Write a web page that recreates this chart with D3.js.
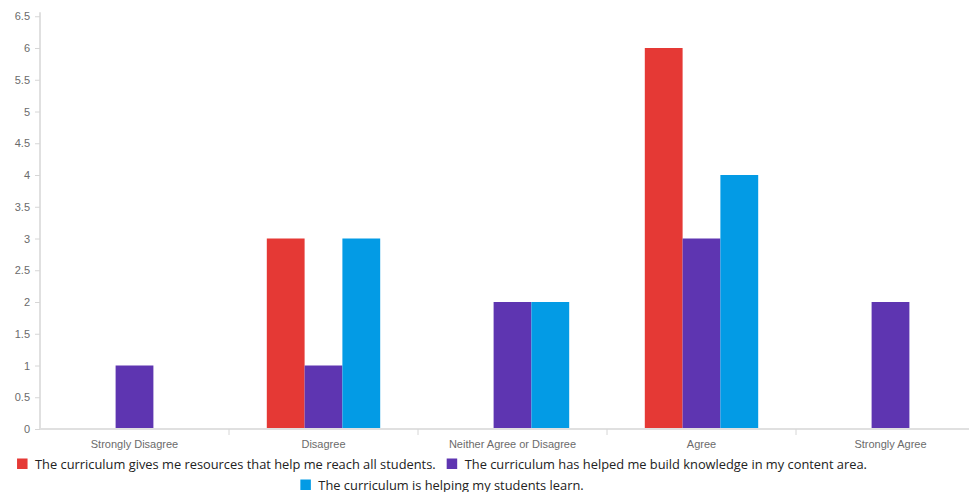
<!DOCTYPE html>
<html><head><meta charset="utf-8">
<script src="https://cdn.jsdelivr.net/npm/d3@7"></script>
<style>body{margin:0;background:#fff;} svg{display:block;font-family:"Open Sans",sans-serif;}</style>
</head><body><svg id="c" width="969" height="492"></svg>
<script>
const categories = ["Strongly Disagree","Disagree","Neither Agree or Disagree","Agree","Strongly Agree"];
const seriesNames = [
  "The curriculum gives me resources that help me reach all students.",
  "The curriculum has helped me build knowledge in my content area.",
  "The curriculum is helping my students learn."
];
const resourcesValues = [0,3,0,6,0];
const knowledgeValues = [1,1,2,3,2];
const learningValues = [0,3,2,4,0];
const yTicks = [0,0.5,1,1.5,2,2.5,3,3.5,4,4.5,5,5.5,6,6.5];
const colors = ["#e53935","#5e35b1","#039be5"];
const seriesValues = [resourcesValues, knowledgeValues, learningValues];

const svg = d3.select("#c");
const left = 40, bandW = 189, yTop = 16.25, yBottom = 429;
const x = d3.scaleBand().domain(categories).range([left, left + bandW*categories.length]).paddingInner(0).paddingOuter(0);
const y = d3.scaleLinear().domain([0,6.5]).range([yBottom, yTop]);
const groupW = x.bandwidth()*0.6;
const xs = d3.scaleBand().domain(d3.range(seriesNames.length)).range([0, groupW]);

// y axis
const ya = svg.append("g").attr("transform",`translate(${left},0)`).call(d3.axisLeft(y).tickValues(yTicks).tickSize(5).tickPadding(5).tickFormat(d3.format("")));
ya.select(".domain").attr("stroke","#e0e0e0").attr("stroke-width",2).attr("d",`M0,${yBottom}V${yTop-4}`);
ya.selectAll(".tick line").attr("stroke","#d6d6d6");
ya.selectAll(".tick text").attr("fill","#6b6b6b").style("font-size","11px");

// bars
seriesValues.forEach((vals,si)=>{
  svg.append("g").selectAll("rect").data(vals.map((v,i)=>({v,c:categories[i]}))).join("rect")
    .attr("x",d=>x(d.c)+(x.bandwidth()-groupW)/2+xs(si))
    .attr("width",xs.bandwidth())
    .attr("y",d=>y(d.v))
    .attr("height",d=>yBottom-y(d.v))
    .attr("fill",colors[si]);
});

// x axis
const xa = svg.append("g").attr("transform",`translate(0,${yBottom})`).call(d3.axisBottom(x).tickSize(0).tickPadding(11));
xa.select(".domain").attr("stroke","#e0e0e0").attr("stroke-width",2).attr("d",`M${left},0H969`);
xa.selectAll(".tick text").attr("fill","#6b6b6b").style("font-size","11px");
const bounds = categories.slice(1).map(c=>x(c));
xa.selectAll(".sep").data(bounds).join("line").attr("class","sep")
  .attr("x1",d=>d).attr("x2",d=>d).attr("y1",0).attr("y2",6).attr("stroke","#d6d6d6");

// legend
const lg = svg.append("g").style("font-size","12.85px");
const items = seriesNames.map((n,i)=>{
  const g = lg.append("g");
  g.append("rect").attr("width",10.5).attr("height",10.5).attr("fill",colors[i]);
  const t = g.append("text").attr("x",18).attr("y",10).attr("fill","#222").text(n);
  return {g, w: 18 + t.node().getComputedTextLength()};
});
const maxW = 880, gap = 11, centerX = 442;
let rows = [[]], rw = 0;
items.forEach(it=>{
  const add = (rows[rows.length-1].length? gap:0) + it.w;
  if (rw + add > maxW && rows[rows.length-1].length){ rows.push([it]); rw = it.w; }
  else { rows[rows.length-1].push(it); rw += add; }
});
rows.forEach((r,ri)=>{
  const tw = d3.sum(r,d=>d.w) + gap*(r.length-1);
  let cx = centerX - tw/2;
  r.forEach(it=>{ it.g.attr("transform",`translate(${cx},${458.5+ri*21})`); cx += it.w + gap; });
});
</script></body></html>
